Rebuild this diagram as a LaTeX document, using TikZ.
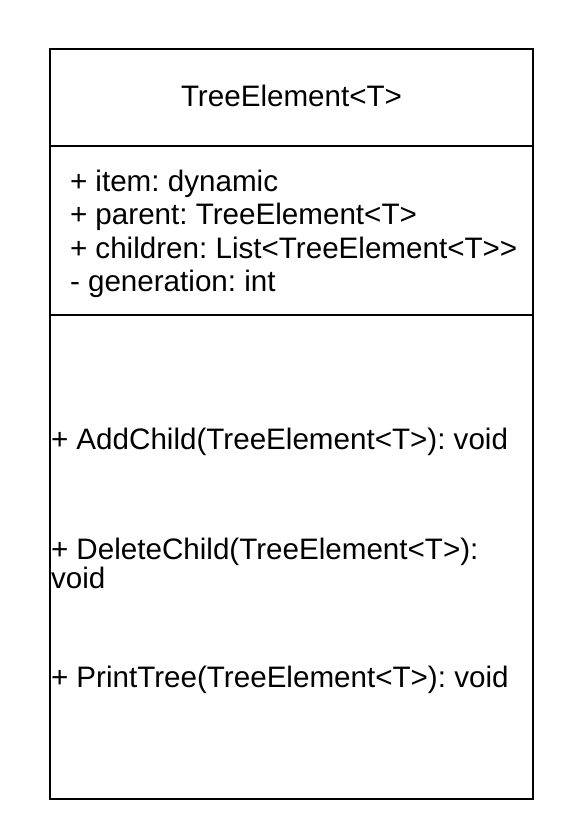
\documentclass[tikz,border=0pt]{standalone}
\usepackage{fontspec}
\setmainfont{Liberation Sans}
\frenchspacing
\begin{document}
\begin{tikzpicture}[x=1pt,y=-1pt,
  frame/.style={draw=black,line width=2pt},
  label/.style={inner sep=0pt,outer sep=0pt,font=\fontsize{29.6}{33.5}\selectfont},
  leftlabel/.style={label,anchor=base west}]
  \useasboundingbox (0,0) rectangle (584,832);
  % class box and compartment dividers
  \draw[frame] (50,49) rectangle (533,799);
  \draw[frame] (50,146) -- (533,146);
  \draw[frame] (50,315) -- (533,315);
  % class name
  \node[label,anchor=base] (title) at (291.5,107) {TreeElement<T>};
  % attributes
  \node[leftlabel] (attr1) at (70,191) {+ item: dynamic};
  \node[leftlabel] (attr2) at (70,224.5) {+ parent: TreeElement<T>};
  \node[leftlabel] (attr3) at (70,258) {+ children: List<TreeElement<T>{}>};
  \node[leftlabel] (attr4) at (70,291.5) {- generation: int};
  % operations
  \node[leftlabel] (op1) at (51,449.5) {+ AddChild(TreeElement<T>): void};
  \node[leftlabel] (op2a) at (51,559) {+ DeleteChild(TreeElement<T>):};
  \node[leftlabel] (op2b) at (51,588) {void};
  \node[leftlabel] (op3) at (51,687.5) {+ PrintTree(TreeElement<T>): void};
\end{tikzpicture}
\end{document}
